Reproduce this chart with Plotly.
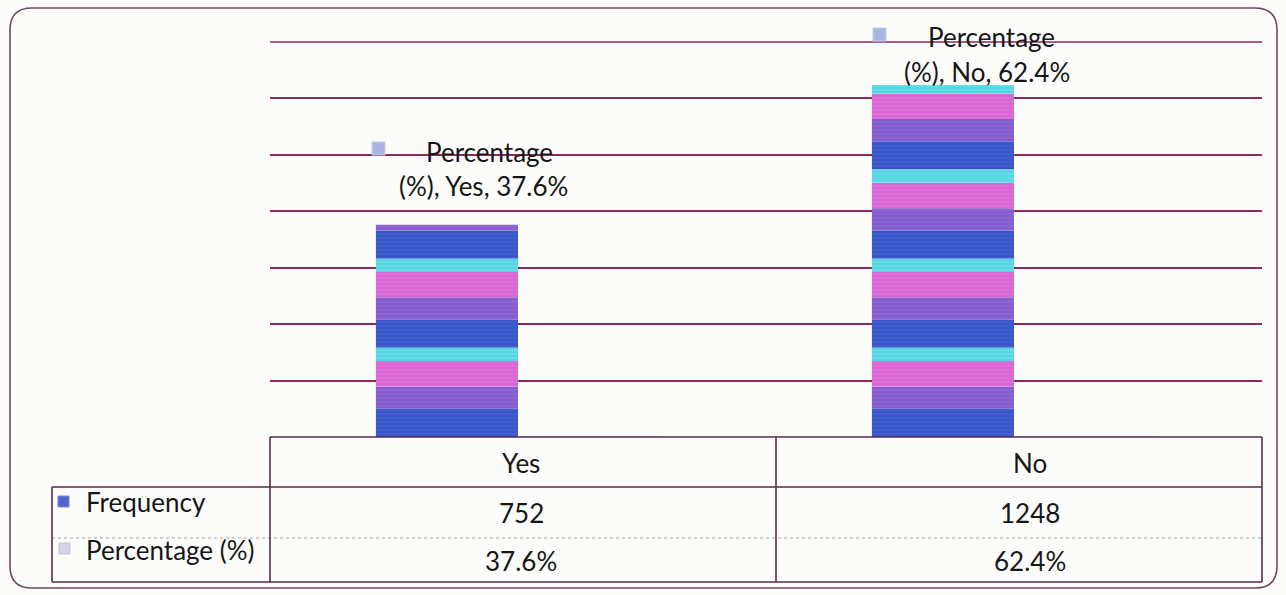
import plotly.graph_objects as go

# ---------------- data ----------------
categories = ["Yes", "No"]
frequency = [752, 1248]
percentage = [0.376, 0.624]          # stored as fractions (shown as %)
pct_labels = ["37.6%", "62.4%"]
series_names = ["Frequency", "Percentage (%)"]

W, H = 1286, 595
def px(x):
    return x / W
def py(y):
    return 1 - y / H

FONT = "Lato"
TXT = "#161616"
GRID = "#8a2a60"
TLINE = "#5a2848"
Y_MAX = 1400
PLOT_TOP, PLOT_BOTTOM = 42, 437

# decorative striped texture for the Frequency bars (bottom-up band thickness in data units)
texture = [
    ("#3f5dd0", "#2c44ad", 100),
    ("#8c64d4", "#6c4bbd", 79),
    ("#df6fd8", "#c052c2", 90),
    ("#62dce6", "#3fc3d3", 47),
]

fig = go.Figure()

segs = {c: {"x": [], "base": [], "y": [], "fg": fg} for c, fg, _ in texture}
for cat, val in zip(categories, frequency):
    pos, i = 0, 0
    while pos < val:
        color, fg, h = texture[i % len(texture)]
        hh = min(h, val - pos)
        segs[color]["x"].append(cat)
        segs[color]["base"].append(pos)
        segs[color]["y"].append(hh)
        pos += hh
        i += 1

for color, d in segs.items():
    fig.add_trace(go.Bar(
        x=d["x"], y=d["y"], base=d["base"], name=series_names[0],
        offsetgroup="freq", showlegend=False, hoverinfo="skip",
        marker=dict(color=color, line=dict(width=0),
                    pattern=dict(shape="-", fgcolor=d["fg"], size=4, solidity=0.3)),
    ))

fig.add_trace(go.Bar(
    x=categories, y=percentage, name=series_names[1], offsetgroup="pct",
    showlegend=False, marker=dict(color="#cfcfe2", line=dict(width=0)),
))

fig.update_layout(
    width=W, height=H, autosize=False,
    margin=dict(l=0, r=0, t=0, b=0),
    paper_bgcolor="#fcfcfb", plot_bgcolor="rgba(0,0,0,0)",
    barmode="group", bargap=0.427, bargroupgap=0,
    showlegend=False,
    xaxis=dict(domain=[px(270), px(1262)], showticklabels=False, showgrid=False,
               zeroline=False, showline=False, ticks=""),
    yaxis=dict(domain=[py(PLOT_BOTTOM), py(PLOT_TOP)], range=[0, Y_MAX], dtick=200, tick0=0,
               showgrid=True, gridcolor=GRID, gridwidth=1.5,
               showticklabels=False, zeroline=False, showline=False, ticks=""),
    font=dict(family=FONT, color=TXT),
)

shapes = []

def hline(x0, x1, y, color=TLINE, width=1.6, dash="solid", layer="above"):
    shapes.append(dict(type="line", xref="paper", yref="paper",
                       x0=px(x0), x1=px(x1), y0=py(y), y1=py(y), layer=layer,
                       line=dict(color=color, width=width, dash=dash)))
def vline(x, y0, y1, color=TLINE, width=1.6):
    shapes.append(dict(type="line", xref="paper", yref="paper",
                       x0=px(x), x1=px(x), y0=py(y0), y1=py(y1),
                       line=dict(color=color, width=width)))
def square(x, y, s, color, edge):
    shapes.append(dict(type="rect", xref="paper", yref="paper",
                       x0=px(x), x1=px(x + s), y0=py(y), y1=py(y + s),
                       fillcolor=color, line=dict(color=edge, width=1)))

# top gridline at the axis maximum (plot area edge)
hline(270, 1262, PLOT_TOP, color=GRID, width=1.5, layer="below")

# data table grid
hline(270, 1262, PLOT_BOTTOM)
hline(52, 1262, 487)
hline(52, 1262, 538, color="#a3a3a3", width=1.2, dash="dot")
hline(52, 1262, 582)
vline(52, 487, 582)
vline(270, PLOT_BOTTOM, 582)
vline(776, PLOT_BOTTOM, 582)
vline(1262, PLOT_BOTTOM, 582)

# legend keys
square(58, 496, 11, "#5463cc", "#7b8ad8")
square(59, 543, 11, "#d4d4e4", "#c4c4d8")
square(372, 142, 13, "#aab6e0", "#c4cdea")
square(873, 28, 13, "#aab6e0", "#c4cdea")

# outer rounded border
x0, y0, x1, y1, r = 10, 8, 1277, 588, 22
pts = (f"M {px(x0+r)},{py(y0)} L {px(x1-r)},{py(y0)} Q {px(x1)},{py(y0)} {px(x1)},{py(y0+r)} "
       f"L {px(x1)},{py(y1-r)} Q {px(x1)},{py(y1)} {px(x1-r)},{py(y1)} "
       f"L {px(x0+r)},{py(y1)} Q {px(x0)},{py(y1)} {px(x0)},{py(y1-r)} "
       f"L {px(x0)},{py(y0+r)} Q {px(x0)},{py(y0)} {px(x0+r)},{py(y0)} Z")
shapes.append(dict(type="path", xref="paper", yref="paper", path=pts,
                   line=dict(color="#6e4a62", width=1.6)))
fig.update_layout(shapes=shapes)

FS = 26
def ann(x, y, text, size=FS, color=TXT, xanchor="center"):
    fig.add_annotation(x=px(x), y=py(y), xref="paper", yref="paper", text=text,
                       showarrow=False, xanchor=xanchor, yanchor="middle",
                       font=dict(family=FONT, size=size, color=color))

# data labels for the Percentage series
label_pos = [((489, 152), (483, 186)), ((991, 37), (987, 72))]
for cat, lab, (l1, l2) in zip(categories, pct_labels, label_pos):
    ann(l1[0], l1[1], "Percentage")
    ann(l2[0], l2[1], f"(%), {cat}, {lab}")

# table contents
col_x = [521, 1030]
for cx, cat, f, p in zip(col_x, categories, frequency, pct_labels):
    ann(cx, 463, cat)
    ann(cx, 513, f"{f}")
    ann(cx, 561, p)

ann(84, 502, series_names[0], xanchor="left")
ann(84, 550, series_names[1], xanchor="left")

fig.write_html("out.html")
